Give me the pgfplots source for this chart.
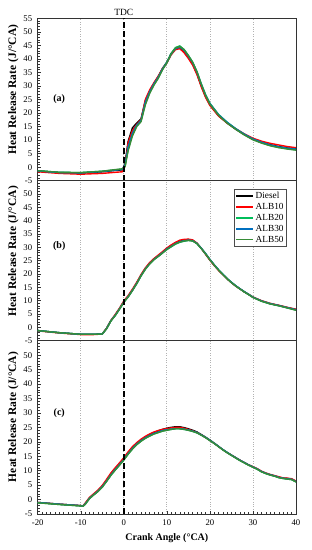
\documentclass[border=0pt]{standalone}
\usepackage{fontspec}
\setmainfont{Liberation Serif}
\usepackage{pgfplots}
\usepackage{pgfplotstable}
\pgfplotsset{compat=1.18}
\definecolor{cD}{RGB}{0,0,0}
\definecolor{cA}{RGB}{255,0,0}
\definecolor{cB}{RGB}{0,190,90}
\definecolor{cC}{RGB}{0,112,192}
\definecolor{cE}{RGB}{55,140,55}

\pgfplotstableread{
x D A10 A20 A30 A50
-20 -1.4 -1.7 -1.3 -1.4 -1.3
-15 -2.0 -2.3 -1.9 -2.0 -1.9
-10 -2.2 -2.6 -2.0 -2.1 -2.0
-5 -1.7 -2.3 -1.5 -1.6 -1.5
-2 -1.2 -1.9 -1.0 -1.1 -0.9
-0.3 -1.0 -1.7 -0.7 -0.8 -0.6
0.3 1.5 0.5 0.5 0.8 0.2
1 9.5 9.0 6.5 7.5 6.0
2 14.5 13.5 12.0 12.5 11.5
3 16.3 15.8 15.2 15.5 15.0
4 17.8 17.5 17.0 17.2 16.8
5 24.5 25.0 23.5 24.0 23.0
6 28.0 28.5 27.5 27.8 27.2
7 31.0 31.2 30.5 30.8 30.3
8 33.5 33.6 33.0 33.2 32.8
9 36.5 36.5 36.2 36.3 36.0
10 38.8 38.5 38.8 38.6 38.5
11 42.0 41.5 42.0 41.8 41.8
12 43.8 43.4 44.2 43.8 44.0
13 44.2 43.8 44.8 44.3 44.6
14 42.5 42.3 43.5 43.2 43.4
15 40.5 40.2 41.3 41.0 41.2
16 38.0 37.7 38.8 38.6 38.7
17 34.5 34.2 35.3 35.1 35.2
18 30.0 29.7 30.8 30.6 30.6
19 26.0 25.8 26.8 26.6 26.5
20 23.0 22.8 23.6 23.5 23.3
22 19.0 18.9 19.5 19.4 19.2
24 16.3 16.3 16.6 16.6 16.3
26 14.0 14.2 14.2 14.2 14.0
28 12.0 12.3 12.1 12.2 11.9
30 10.3 10.7 10.3 10.4 10.1
32 9.2 9.6 9.0 9.2 8.9
34 8.3 8.8 8.0 8.2 7.9
36 7.6 8.2 7.3 7.5 7.2
38 7.1 7.6 6.8 7.0 6.7
40 6.8 7.2 6.4 6.7 6.3
}\tableA

\pgfplotstableread{
x D A10 A20 A30 A50
-20 -1.2 -1.3 -1.2 -1.2 -1.2
-15 -2.0 -2.1 -2.0 -2.0 -2.0
-10 -2.6 -2.7 -2.6 -2.6 -2.6
-7 -2.6 -2.7 -2.6 -2.6 -2.6
-5 -2.5 -2.5 -2.5 -2.5 -2.5
-4 -0.4 -0.3 -0.5 -0.4 -0.5
-3 2.5 2.6 2.4 2.5 2.4
-2 4.6 4.8 4.4 4.5 4.4
-1 7.0 7.2 6.8 6.9 6.8
0 9.6 9.9 9.4 9.5 9.4
1 11.6 11.9 11.4 11.5 11.4
2 14.0 14.3 13.8 13.9 13.8
3 16.6 16.9 16.4 16.5 16.4
4 19.5 19.8 19.3 19.4 19.3
5 22.0 22.3 21.8 21.9 21.8
6 24.0 24.3 23.8 23.9 23.8
7 25.6 25.8 25.4 25.5 25.4
8 26.8 27.1 26.6 26.7 26.6
9 28.1 28.4 27.9 28.0 27.9
10 29.5 29.8 29.2 29.4 29.2
11 30.6 30.9 30.2 30.4 30.3
12 31.6 31.9 31.2 31.4 31.3
13 32.3 32.7 31.9 32.1 32.0
14 32.7 33.0 32.3 32.5 32.4
15 32.9 33.1 32.6 32.7 32.6
16 32.6 32.8 32.4 32.5 32.4
17 31.5 31.6 31.4 31.5 31.4
18 29.6 29.6 29.6 29.7 29.6
19 27.5 27.4 27.6 27.7 27.6
20 25.3 25.2 25.4 25.5 25.4
21 23.3 23.2 23.4 23.5 23.4
22 21.5 21.4 21.6 21.6 21.5
23 19.8 19.8 19.9 19.9 19.8
24 18.2 18.2 18.3 18.3 18.2
25 16.8 16.8 16.9 16.9 16.8
26 15.5 15.5 15.6 15.6 15.5
27 14.4 14.4 14.4 14.5 14.4
28 13.3 13.3 13.3 13.4 13.3
29 12.3 12.4 12.3 12.4 12.3
30 11.3 11.4 11.3 11.3 11.2
32 9.9 10.0 9.8 9.9 9.8
34 8.9 9.0 8.8 8.9 8.8
36 8.2 8.3 8.1 8.2 8.1
38 7.4 7.5 7.3 7.4 7.3
40 6.7 6.8 6.5 6.6 6.4
}\tableB

\pgfplotstableread{
x D A10 A20 A30 A50
-20 -1.0 -1.0 -1.1 -1.0 -1.1
-15 -1.6 -1.6 -1.7 -1.6 -1.7
-10 -2.1 -2.1 -2.2 -2.1 -2.2
-9.5 -2.3 -2.2 -2.3 -2.3 -2.3
-9 -1.5 -1.3 -1.7 -1.6 -1.7
-8 0.5 0.7 0.3 0.4 0.3
-7 1.8 2.0 1.6 1.7 1.6
-6 3.0 3.3 2.8 2.9 2.8
-5 4.6 4.9 4.3 4.5 4.3
-4 6.6 7.0 6.3 6.4 6.3
-3 8.8 9.2 8.4 8.6 8.4
-2 10.6 11.0 10.2 10.4 10.2
-1 12.3 12.7 11.9 12.1 11.9
0 14.1 14.5 13.7 13.9 13.7
1 16.1 16.5 15.7 15.9 15.7
2 17.9 18.3 17.5 17.7 17.5
3 19.4 19.7 19.0 19.2 19.0
4 20.6 20.9 20.2 20.4 20.2
5 21.6 21.9 21.2 21.4 21.2
6 22.5 22.7 22.0 22.2 22.0
7 23.2 23.4 22.7 22.9 22.7
8 23.8 23.9 23.2 23.4 23.2
9 24.3 24.3 23.7 23.9 23.7
10 24.7 24.6 24.0 24.2 24.0
11 25.0 24.8 24.3 24.4 24.3
12 25.2 25.0 24.5 24.6 24.5
13 25.2 25.0 24.5 24.6 24.5
14 24.9 24.7 24.3 24.4 24.3
15 24.5 24.3 24.0 24.1 24.0
16 24.0 23.8 23.6 23.7 23.6
17 23.4 23.2 23.1 23.2 23.1
18 22.5 22.4 22.3 22.4 22.3
19 21.6 21.5 21.5 21.5 21.4
20 20.6 20.5 20.5 20.5 20.4
21 19.5 19.5 19.5 19.5 19.4
22 18.4 18.4 18.4 18.4 18.3
23 17.3 17.3 17.3 17.3 17.2
24 16.3 16.3 16.3 16.3 16.2
25 15.4 15.4 15.3 15.4 15.3
26 14.5 14.5 14.4 14.5 14.4
27 13.6 13.6 13.5 13.6 13.5
28 12.8 12.8 12.7 12.8 12.7
29 12.0 12.0 11.9 12.0 11.9
30 11.3 11.4 11.2 11.3 11.2
31 10.6 10.7 10.5 10.6 10.5
32 9.7 9.8 9.6 9.7 9.6
33 9.1 9.2 9.0 9.1 9.0
34 8.6 8.7 8.5 8.6 8.5
35 8.2 8.3 8.1 8.2 8.1
36 7.7 7.9 7.6 7.7 7.6
37 7.4 7.5 7.3 7.4 7.3
38 7.3 7.4 7.1 7.2 7.1
39 7.1 7.2 6.9 7.0 6.9
40 6.3 6.4 6.1 6.2 6.1
}\tableC

\pgfplotsset{
  panel/.style={
    scale only axis, width=258.3pt,
    xmin=-20, xmax=40, ymin=-5, ymax=55,
    xtick={-20,-10,0,10,20,30,40},
    ytick={-5,0,5,10,15,20,25,30,35,40,45,50,55},
    minor y tick num=4,
    tick align=inside, ytick pos=left, xtick pos=bottom,
    major tick length=3pt, minor tick length=2pt,
    every tick/.style={black!80, line width=0.5pt},
    axis line style={black!80, line width=0.8pt},
    xmajorgrids=true,
    grid style={dotted, black!30, line width=0.7pt},
    tick label style={font=\fontsize{8.7}{10}\selectfont},
    yticklabel style={xshift=-2pt},
    ylabel={Heat Release Rate (J/°CA)},
    ylabel style={font=\fontsize{11.5}{13}\bfseries, at={(axis description cs:-0.094,0.56)}, anchor=center},
    every axis plot/.append style={line width=1.4pt, no markers},
    clip mode=individual,
  },
}

\begin{document}
\begin{tikzpicture}
% Panel (a)
\begin{axis}[panel, at={(37.7pt,369.3pt)}, anchor=south west, height=162.4pt,
  yticklabels={-5,0,5,10,15,20,25,30,35,40,45,50,55},
  xticklabels={}, xtick style={draw=none}]
\addplot[cD] table[x=x,y=D]{\tableA};
\addplot[cA] table[x=x,y=A10]{\tableA};
\addplot[cB] table[x=x,y=A20]{\tableA};
\addplot[cC] table[x=x,y=A30]{\tableA};
\addplot[cE] table[x=x,y=A50]{\tableA};
\addplot[black, line width=1.5pt, dash pattern=on 6pt off 3pt] coordinates {(0,-5) (0,55)};
\node[font=\fontsize{9.5}{11}\selectfont, anchor=base, yshift=3.3pt] at (axis cs:0,55) {TDC};
\node[font=\fontsize{10}{11}\bfseries] at (axis cs:-15,25) {(a)};
\end{axis}
% Panel (b)
\begin{axis}[panel, at={(37.7pt,209.3pt)}, anchor=south west, height=160pt,
  yticklabels={-5,0,5,10,15,20,25,30,35,40,45,50,{}},
  xticklabels={}, xtick style={draw=none},
  legend style={at={(axis description cs:0.965,0.95)}, anchor=north east,
    draw=black!70, line width=0.6pt, fill=white,
    font=\fontsize{9.3}{10}\selectfont, inner sep=1.5pt, row sep=0pt,
    nodes={inner sep=1.6pt}},
  legend cell align=left,
  legend image post style={line width=1.3pt}]
\addplot[cD] table[x=x,y=D]{\tableB};
\addlegendentry{Diesel}
\addplot[cA] table[x=x,y=A10]{\tableB};
\addlegendentry{ALB10}
\addplot[cB] table[x=x,y=A20]{\tableB};
\addlegendentry{ALB20}
\addplot[cC] table[x=x,y=A30]{\tableB};
\addlegendentry{ALB30}
\addplot[cE] table[x=x,y=A50]{\tableB};
\addlegendentry{ALB50}
\addplot[black, line width=1.5pt, dash pattern=on 6pt off 3pt, forget plot] coordinates {(0,-5) (0,55)};
\node[font=\fontsize{10}{11}\bfseries] at (axis cs:-15,30.5) {(b)};
\end{axis}
% Panel (c)
\begin{axis}[panel, at={(37.7pt,36pt)}, anchor=south west, height=173.3pt,
  yticklabels={-5,0,5,10,15,20,25,30,35,40,45,50,{}},
  xticklabels={-20,-10,0,10,20,30,40},
  minor x tick num=9,
  xlabel={Crank Angle (°CA)},
  xlabel style={font=\fontsize{10}{11}\bfseries, at={(axis description cs:0.5,0)}, anchor=center, yshift=-24.5pt},
  xticklabel style={yshift=-2.5pt}]
\addplot[cD] table[x=x,y=D]{\tableC};
\addplot[cA] table[x=x,y=A10]{\tableC};
\addplot[cB] table[x=x,y=A20]{\tableC};
\addplot[cC] table[x=x,y=A30]{\tableC};
\addplot[cE] table[x=x,y=A50]{\tableC};
\addplot[black, line width=1.5pt, dash pattern=on 6pt off 3pt] coordinates {(0,-5) (0,55)};
\node[font=\fontsize{10}{11}\bfseries] at (axis cs:-15,30) {(c)};
\end{axis}
\pgfresetboundingbox
\useasboundingbox (0,0) rectangle (312pt,550pt);
\end{tikzpicture}
\end{document}
